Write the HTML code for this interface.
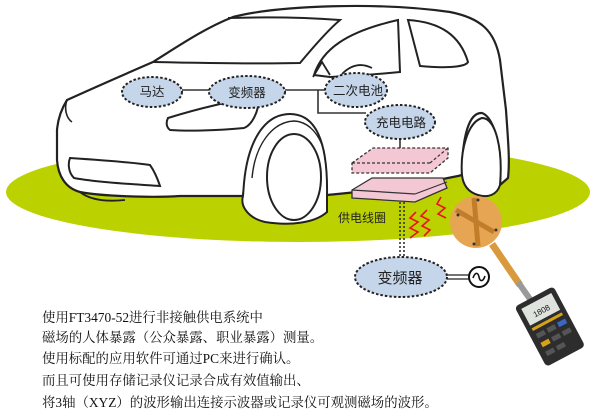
<!DOCTYPE html>
<html><head><meta charset="utf-8"><style>
html,body{margin:0;padding:0;background:#fff;width:600px;height:420px;overflow:hidden}
svg{position:absolute;left:0;top:0}
.t{position:absolute;left:42px;font-family:"Liberation Serif","Noto Serif CJK SC",serif;font-size:13.4px;color:#111;white-space:nowrap;line-height:20px}
</style></head><body>
<svg width="600" height="420" viewBox="0 0 600 420" font-family="Liberation Sans, Noto Sans CJK SC, sans-serif">
<ellipse cx="298" cy="192" rx="292" ry="50" fill="#bcd200"/>
<!-- car body -->
<path d="M67,100 C100,85 130,72 153,62 C180,45 205,28 233,17 C280,5 380,2 450,12 C480,18 495,30 500,60 L506,110 C508,140 510,160 508,178 L500,185 C502,150 495,118 482,113 C468,112 462,140 462,175 L458,176 C400,188 360,192 327,195 C325,150 315,118 290,115 C262,115 248,150 243,196 L180,196 C150,198 100,196 80,192 C65,188 58,175 57,160 L57,130 C58,118 62,108 67,100 Z" fill="#fff" stroke="#222" stroke-width="2.2" stroke-linejoin="round"/>
<!-- wheels -->
<path d="M244,183 C248,140 265,114 290,114 C315,114 328,140 327,195 L327,212 C315,223 290,226 265,222 C248,218 240,206 243,196 Z" fill="#fff" stroke="#222" stroke-width="2"/>
<ellipse cx="294" cy="177" rx="27" ry="43" fill="#fff" stroke="#222" stroke-width="2"/>
<path d="M252,178 C255,145 272,122 294,121 C314,122 325,145 325,160" fill="none" stroke="#222" stroke-width="1.4"/>
<path d="M462,175 C460,150 468,122 482,118 C496,118 503,150 500,185 C497,195 488,198 478,195 C468,192 463,185 462,175 Z" fill="#fff" stroke="#222" stroke-width="2"/>
<path d="M80,192 C90,200 105,202 125,200" fill="none" stroke="#222" stroke-width="1.8"/>
<!-- windows -->
<path d="M153,62 C200,63 260,64 300,63 C315,45 328,30 340,20 C300,17 260,17 228,18" fill="none" stroke="#222" stroke-width="2"/>
<path d="M314,75 C322,50 345,32 398,20 L400,72 C380,74 350,76 330,77 Z" fill="none" stroke="#222" stroke-width="2"/>
<path d="M408,20 C440,22 460,35 468,62 C465,68 440,68 420,66 Z" fill="none" stroke="#222" stroke-width="2"/>
<path d="M313,77 L322,62 L330,75 M342,74 C350,66 360,62 372,68" fill="none" stroke="#222" stroke-width="1.8"/>
<!-- headlight -->
<path d="M168,118 C200,108 235,100 258,97 C260,110 252,125 244,128 C215,131 185,131 170,130 C166,127 166,122 168,118 Z" fill="#fff" stroke="#222" stroke-width="2"/>
<path d="M67,100 C64,108 66,118 72,122" fill="none" stroke="#222" stroke-width="1.6"/>
<path d="M70,158 C100,160 130,162 150,165 C155,172 158,180 160,186 C130,184 95,182 74,178 C68,172 68,163 70,158 Z" fill="#fff" stroke="#222" stroke-width="2"/>
<!-- connectors -->
<g stroke="#333" stroke-width="1.6" fill="none">
<line x1="182" y1="90" x2="210" y2="90"/>
<line x1="285" y1="90" x2="325" y2="90"/>
<polyline points="318,90 318,113 366,113"/>
<line x1="400" y1="139" x2="400" y2="156"/>
</g>
<!-- pads -->
<path d="M352,163 L373,148 L448,148 L448,158 L430,173 L352,173 Z" fill="#f4c7d4" stroke="#333" stroke-width="1.3" stroke-dasharray="3,2"/>
<line x1="352" y1="163" x2="430" y2="163" stroke="#333" stroke-width="1.2" stroke-dasharray="3,2"/>
<line x1="430" y1="163" x2="448" y2="148" stroke="#333" stroke-width="1.2" stroke-dasharray="3,2"/>
<path d="M352,190 L372,178 L443,178 L447,188 L415,202 L352,198 Z" fill="#f4c7d4" stroke="#333" stroke-width="1.3"/>
<line x1="352" y1="190" x2="415" y2="194" stroke="#333" stroke-width="1.2"/>
<line x1="415" y1="194" x2="447" y2="182" stroke="#333" stroke-width="1.2"/>
<!-- dotted feed -->
<line x1="400" y1="202" x2="400" y2="258" stroke="#333" stroke-width="1.6" stroke-dasharray="2,2"/>
<line x1="404" y1="202" x2="404" y2="258" stroke="#333" stroke-width="1.6" stroke-dasharray="2,2"/>
<!-- nodes -->
<g fill="#c5d5ea" stroke="#222" stroke-width="2" stroke-dasharray="2.5,2">
<ellipse cx="152" cy="92" rx="30" ry="15"/>
<ellipse cx="247" cy="92" rx="38" ry="16"/>
<ellipse cx="356" cy="90" rx="31" ry="17"/>
<ellipse cx="400" cy="122" rx="35" ry="17"/>
<ellipse cx="401" cy="277" rx="46" ry="20"/>
</g>
<g font-size="12.5" fill="#222" text-anchor="middle">
<text x="152" y="96">马达</text>
<text x="247" y="97">变频器</text>
<text x="358" y="95">二次电池</text>
<text x="401" y="127">充电电路</text>
<text x="400" y="283" font-size="15">变频器</text>
<text x="362" y="222" font-size="12">供电线圈</text>
</g>
<!-- AC source -->
<line x1="447" y1="275" x2="469" y2="275" stroke="#222" stroke-width="1.3"/>
<line x1="447" y1="279" x2="469" y2="279" stroke="#222" stroke-width="1.3"/>
<circle cx="479" cy="277" r="10" fill="#fff" stroke="#111" stroke-width="2"/>
<path d="M473,278 C475,272 478,272 479,277 C480,282 483,282 485,276" fill="none" stroke="#111" stroke-width="1.6"/>
<!-- red zigzags -->
<g fill="none" stroke="#e8141c" stroke-width="1.6">
<polyline points="416,212 410,218 418,222 410,228 418,232 410,238"/>
<polyline points="427,210 421,216 429,220 422,226 430,230 424,236"/>
<polyline points="441,197 437,204 445,208 438,214 446,218"/>
</g>
<!-- probe -->
<line x1="492" y1="244" x2="520" y2="285" stroke="#d99a3e" stroke-width="7"/>
<line x1="518" y1="282" x2="532" y2="302" stroke="#9a9a9a" stroke-width="6"/>
<circle cx="476" cy="222" r="26" fill="#e6a552"/>
<path d="M456,210 L494,232 M474,198 L478,246" stroke="#c27d2b" stroke-width="5"/>
<g fill="#333"><circle cx="478" cy="200" r="1.5"/><circle cx="458" cy="215" r="1.5"/><circle cx="496" cy="230" r="1.5"/><circle cx="474" cy="244" r="1.5"/></g>
<g transform="rotate(-28 549 327)">
<rect x="528" y="293" width="44" height="68" rx="4" fill="#2d2d2d"/>
<rect x="533" y="298" width="34" height="19" fill="#dfe3de"/>
<text x="550" y="312" font-size="8" text-anchor="middle" fill="#111">1808</text>
<rect x="533" y="320" width="34" height="3" fill="#d6a21a"/>
<g fill="#555"><rect x="534" y="327" width="9" height="5"/><rect x="546" y="327" width="9" height="5"/><rect x="558" y="327" width="9" height="5" fill="#3a66c4"/>
<rect x="534" y="337" width="9" height="5" fill="#d6a21a"/><rect x="546" y="337" width="9" height="5"/><rect x="558" y="337" width="9" height="5"/>
<rect x="534" y="347" width="9" height="5"/><rect x="546" y="347" width="9" height="5"/></g>
</g>
</svg>
<div class="t" style="top:308px">使用FT3470-52进行非接触供电系统中</div>
<div class="t" style="top:328px">磁场的人体暴露（公众暴露、职业暴露）测量。</div>
<div class="t" style="top:349px">使用标配的应用软件可通过PC来进行确认。</div>
<div class="t" style="top:371px">而且可使用存储记录仪记录合成有效值输出、</div>
<div class="t" style="top:393px">将3轴（XYZ）的波形输出连接示波器或记录仪可观测磁场的波形。</div>
</body></html>
